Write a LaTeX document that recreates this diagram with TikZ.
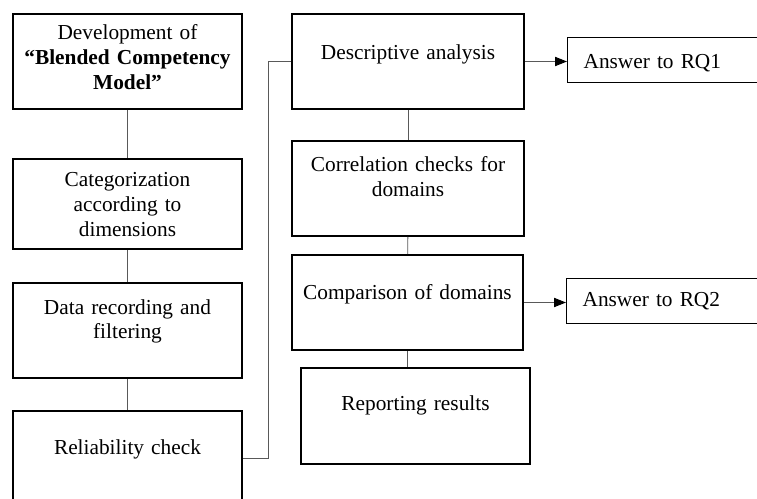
\documentclass[tikz,border=0pt]{standalone}
\usepackage{fontspec}
\setmainfont{Liberation Serif}
\usetikzlibrary{arrows.meta}

\tikzset{
  stage/.style={draw, line width=1.5pt, inner sep=0pt, anchor=north west,
    align=center, text width=171.75pt, font=\fontsize{16}{18.4}\selectfont},
  answer/.style={draw, line width=0.9pt, inner ysep=0pt, inner xsep=12pt,
    anchor=north west, align=left, text width=150pt,
    font=\fontsize{16}{18.4}\selectfont},
  link/.style={draw=black!65, line width=0.7pt},
  tip/.style={link, -{Triangle[length=9pt,width=7pt,color=black]}}
}

\begin{document}
\begin{tikzpicture}
   [x=0.75pt, y=-0.75pt]
   \useasboundingbox (0,0) rectangle (757,499);
   \clip (0,0) rectangle (757,499);

   % left column
   \node[stage, text height=19.5pt, text depth=51.75pt] (model) at (12,13)
     {Development of\\\textbf{“Blended Competency}\\\textbf{Model”}};
   \node[stage, text height=21pt, text depth=46.5pt] (categ) at (12,158)
     {Categorization\\according to\\dimensions};
   \node[stage, text height=23.25pt, text depth=48pt] (record) at (12,282)
     {Data recording and\\filtering};
   \node[stage, text height=32.25pt, text depth=39pt] (reliab) at (12,410)
     {Reliability check};

   % right column
   \node[stage, text width=174pt, text height=34.5pt, text depth=36.75pt] (desc) at (291,13)
     {Descriptive analysis};
   \node[stage, text width=174pt, text height=23.25pt, text depth=48pt] (corr) at (291,140)
     {Correlation checks for\\domains};
   \node[stage, text width=173.25pt, text height=33pt, text depth=38.25pt] (comp) at (291,254)
     {Comparison of domains};
   \node[stage, text height=31.5pt, text depth=40.5pt] (report) at (300,367)
     {Reporting results};

   % answers
   \node[answer, text height=23.25pt, text depth=10.5pt] (rq1) at (567,37) {Answer to RQ1};
   \node[answer, text height=21pt, text depth=12.75pt] (rq2) at (566,278) {Answer to RQ2};

   \draw[link] (model) -- (categ);
   \draw[link] (categ) -- (record);
   \draw[link] (record) -- (reliab);
   \draw[link] (reliab.east) -- ++(25,0) |- (desc.west);
   \draw[link] (desc) -- (corr);
   \draw[link] (corr) -- (comp);
   \draw[link] (comp.south) -- (comp.south |- report.north);
   \draw[tip] (desc.east) -- (desc.east -| rq1.west);
   \draw[tip] (comp.east) -- (comp.east -| rq2.west);
\end{tikzpicture}
\end{document}
